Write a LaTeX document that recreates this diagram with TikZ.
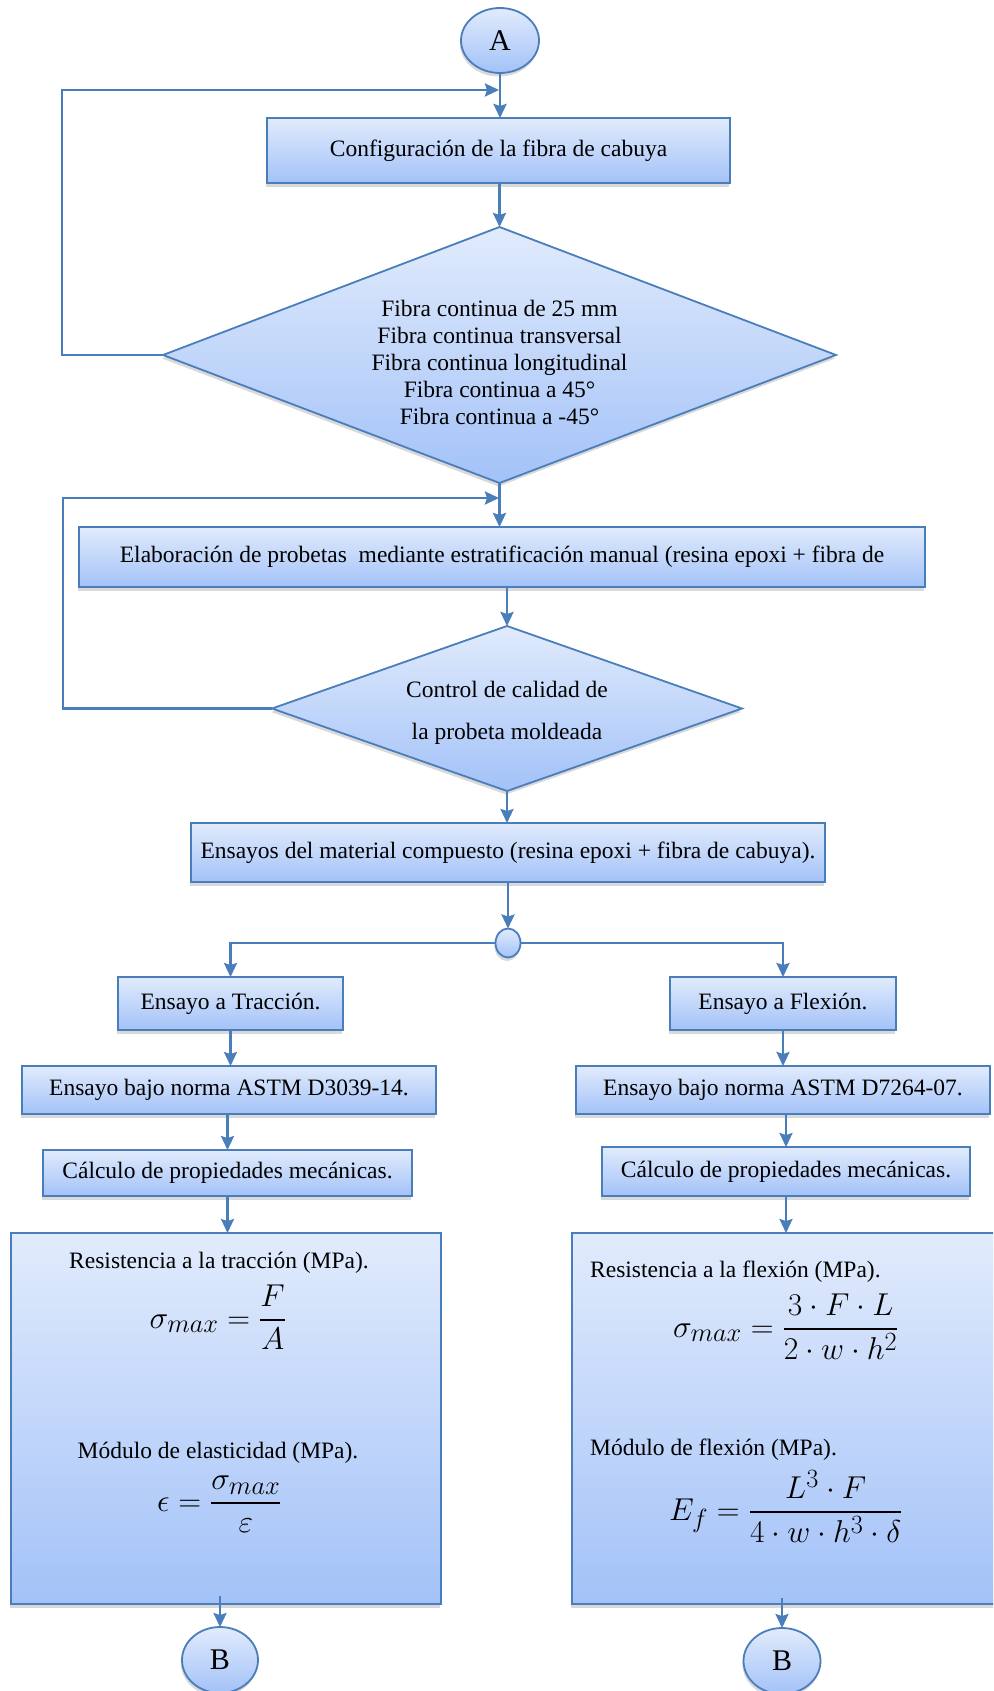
\documentclass[tikz,border=0pt]{standalone}
\usepackage{fontspec}
\setmainfont{Liberation Serif}
\usepackage{amsmath}
\usetikzlibrary{shapes.geometric,arrows.meta,shadows,calc}
\definecolor{bordc}{RGB}{74,126,187}
\definecolor{filltop}{RGB}{225,235,252}
\definecolor{fillbot}{RGB}{163,194,248}
\tikzset{
  blk/.style={draw=bordc, line width=1.8pt, top color=filltop, bottom color=fillbot,
    drop shadow={shadow xshift=-1pt,shadow yshift=-3.5pt,opacity=0.3},
    inner sep=0pt, outer sep=0pt, align=center, font=\fontsize{23.5}{27}\selectfont},
  boxn/.style={blk, rectangle},
  dia/.style={blk, diamond},
  circ/.style={blk, ellipse, font=\fontsize{30}{36}\selectfont},
  arr/.style={draw=bordc, line width=2.5pt, -{Stealth[length=14pt,width=13pt,inset=2pt]}},
  txt/.style={font=\fontsize{23.5}{27}\selectfont, inner sep=0pt, align=center},
  mth/.style={font=\fontsize{24.88}{30}\selectfont, inner sep=0pt, scale=1.27},
}
\begin{document}
\begin{tikzpicture}[x=1pt,y=-1pt]
\useasboundingbox (0,0) rectangle (993,1691);
\clip (0,0) rectangle (993,1691);
% nodes
\node[circ, minimum width=78, minimum height=65] (A) at (500,40.5) {A};
\node[boxn, minimum width=463, minimum height=65] (b1) at (498.5,150.5) {Configuración de la fibra de cabuya};
\node[dia, minimum width=673, minimum height=256] (d1) at (499.5,355) {};
\node[txt] (d1t) at (499.5,362) {Fibra continua de 25 mm\\Fibra continua transversal\\Fibra continua longitudinal\\Fibra continua a 45°\\Fibra continua a -45°};
\node[boxn, minimum width=846, minimum height=60] (b2) at (502,557) {Elaboración de probetas\ \ mediante estratificación manual (resina epoxi + fibra de};
\node[dia, minimum width=470, minimum height=165] (d2) at (507,708.5) {};
\node[txt, font=\fontsize{23.5}{42}\selectfont] (d2t) at (507,713) {Control de calidad de\\la probeta moldeada};
\node[boxn, minimum width=634, minimum height=59] (b3) at (508,852.5) {Ensayos del material compuesto (resina epoxi + fibra de cabuya).};
\node[circ, minimum width=25, minimum height=29] (j) at (508,943) {};
% left branch
\node[boxn, minimum width=225, minimum height=53] (T1) at (230.5,1003.5) {Ensayo a Tracción.};
\node[boxn, minimum width=414, minimum height=48] (T2) at (229,1090) {Ensayo bajo norma ASTM D3039-14.};
\node[boxn, minimum width=369, minimum height=46] (T3) at (227.5,1173) {Cálculo de propiedades mecánicas.};
\node[boxn, minimum width=430, minimum height=371] (T4) at (226,1418.5) {};
\node[circ, minimum width=76, minimum height=66] (Bl) at (220,1660) {B};
% right branch
\node[boxn, minimum width=226, minimum height=53] (F1) at (783,1003.5) {Ensayo a Flexión.};
\node[boxn, minimum width=414, minimum height=48] (F2) at (783,1090) {Ensayo bajo norma ASTM D7264-07.};
\node[boxn, minimum width=368, minimum height=49] (F3) at (786,1171.5) {Cálculo de propiedades mecánicas.};
\node[boxn, minimum width=430, minimum height=371] (F4) at (787,1418.5) {};
\node[circ, minimum width=77, minimum height=66] (Br) at (782,1661) {B};
% texts in the big boxes
\node[txt] (t1) at (219,1263) {Resistencia a la tracción (MPa).};
\node[mth, anchor=base] (f1) at (218,1328) {$\sigma_{max} = \dfrac{F}{A}$};
\node[txt] (t2) at (218,1453) {Módulo de elasticidad (MPa).};
\node[mth, anchor=base] (f2) at (219.5,1511) {$\epsilon = \dfrac{\sigma_{max}}{\varepsilon}$};
\node[txt, anchor=west] (t3) at (590,1272) {Resistencia a la flexión (MPa).};
\node[mth, anchor=base] (f3) at (786,1337) {$\sigma_{max} = \dfrac{3\cdot F\cdot L}{2\cdot w\cdot h^{2}}$};
\node[txt, anchor=west] (t4) at (590,1450) {Módulo de flexión (MPa).};
\node[mth, anchor=base] (f4) at (786,1520) {$E_{f} = \dfrac{L^{3}\cdot F}{4\cdot w\cdot h^{3}\cdot \delta}$};
% helper coordinates
\coordinate (m1) at (499,90);
\coordinate (m2) at (499,498);
\coordinate (bl0) at ($(Bl.north |- T4.south)+(0,-8)$);
\coordinate (br0) at ($(Br.north |- F4.south)+(0,-6)$);
% connectors
\draw[arr] (A.south) -- (A.south |- b1.north);
\draw[arr] (d1.west) -- ++(-101,0) |- (m1);
\draw[arr] (b1.south -| d1.north) -- (d1.north);
\draw[arr] (d1.south) -- (d1.south |- b2.north);
\draw[arr] (d2.west) -- ++(-209,0) |- (m2);
\draw[arr] (d2.north |- b2.south) -- (d2.north);
\draw[arr] (d2.south) -- (d2.south |- b3.north);
\draw[arr] (j.north |- b3.south) -- (j.north);
\draw[arr] (j.west) -| (T1.north);
\draw[arr] (j.east) -| (F1.north);
\draw[arr] (T1.south) -- (T1.south |- T2.north);
\draw[arr] (T3.north |- T2.south) -- (T3.north);
\draw[arr] (T3.south) -- (T3.south |- T4.north);
\draw[arr] (bl0) -- (Bl.north);
\draw[arr] (F1.south) -- (F1.south |- F2.north);
\draw[arr] (F3.north |- F2.south) -- (F3.north);
\draw[arr] (F3.south) -- (F3.south |- F4.north);
\draw[arr] (br0) -- (Br.north);
\end{tikzpicture}
\end{document}
